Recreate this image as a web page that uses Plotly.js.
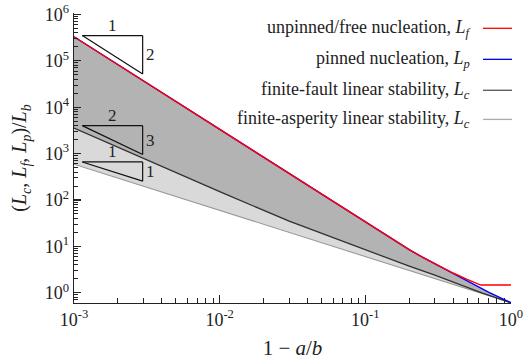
<!DOCTYPE html>
<html>
<head>
<meta charset="utf-8">
<script src="https://cdn.plot.ly/plotly-3.0.1.min.js"></script>
<style>html,body{margin:0;padding:0;background:#fff;}#chart{width:523px;height:360px;}</style>
</head>
<body>
<div id="chart"></div>
<script>
// ---- data (x = 1 - a/b, y = L / L_b) ----
const xFree = [0.001, 0.01, 0.1, 0.15, 0.2, 0.25, 0.3, 0.35, 0.4, 0.5, 0.6, 0.62, 1.0];
const yFree = [330000, 3300, 33, 14.7, 8.5, 5.7, 4.2, 3.27, 2.67, 1.95, 1.54, 1.47, 1.47];

const xPinned = [0.001, 0.01, 0.1, 0.15, 0.2, 0.25, 0.3, 0.35, 0.4, 0.5, 0.6, 0.7, 0.8, 1.0];
const yPinned = [330000, 3300, 33, 14.7, 8.5, 5.7, 4.2, 3.25, 2.6, 1.75, 1.3, 1.03, 0.85, 0.61];

const xFault = [0.001, 0.003, 0.01, 0.03, 0.1, 0.2, 0.3, 0.4, 0.63, 1.0];
const yFault = [3550, 790, 151, 35, 8.3, 3.75, 2.4, 1.7, 1.0, 0.61];

const xAsperity = [0.001, 0.01, 0.1, 0.316, 1.0];
const yAsperity = [590, 60, 6.2, 1.95, 0.61];

const seriesNames = [
  'unpinned/free nucleation, <i>L</i><sub><i>f</i></sub>',
  'pinned nucleation, <i>L</i><sub><i>p</i></sub>',
  'finite-fault linear stability, <i>L</i><sub><i>c</i></sub>',
  'finite-asperity linear stability, <i>L</i><sub><i>c</i></sub>'
];

const xTickVals = [0.001, 0.01, 0.1, 1];
const xTickText = ['10<sup>-3</sup>', '10<sup>-2</sup>', '10<sup>-1</sup>', '10<sup>0</sup>'];
const yTickVals = [1, 10, 100, 1000, 10000, 100000, 1000000];
const yTickText = ['10<sup>0</sup>', '10<sup>1</sup>', '10<sup>2</sup>', '10<sup>3</sup>', '10<sup>4</sup>', '10<sup>5</sup>', '10<sup>6</sup>'];

// slope triangles: [run label, rise label, slope]
const triRun = ['1', '2', '1'];
const triRise = ['2', '3', '1'];
const triSlope = [2, 1.5, 1];

// ---- styling / layout ----
const FONT = 'Liberation Serif, Times New Roman, serif';
const TXT = '#222';
const colFree = '#ff0000', colPinned = '#0000ff', colFault = '#303030', colAsp = '#999999';
const fillDark = '#b3b3b3', fillLight = '#d9d9d9';

function minorVals(lo, hi) {
  const v = [];
  for (let e = lo; e <= hi; e++) for (let m = 2; m <= 9; m++) v.push(m * Math.pow(10, e));
  return v;
}

const traces = [
  {x: xAsperity, y: yAsperity, mode: 'lines', line: {color: colAsp, width: 1.1}, showlegend: false, hoverinfo: 'skip'},
  {x: xFault, y: yFault, mode: 'lines', line: {color: colFault, width: 1.3}, fill: 'tonexty', fillcolor: fillLight, showlegend: false, hoverinfo: 'skip'},
  {x: xPinned, y: yPinned, mode: 'lines', line: {color: colPinned, width: 1.4}, fill: 'tonexty', fillcolor: fillDark, showlegend: false, hoverinfo: 'skip'},
  {x: xFree, y: yFree, mode: 'lines', line: {color: colFree, width: 1.4}, showlegend: false, hoverinfo: 'skip'}
];

// triangle geometry (positions only)
const triX0 = 0.00114, triX1 = 0.00296;
const triTop = [350000, 4000, 660];
const shapes = [], annotations = [];
for (let i = 0; i < 3; i++) {
  const top = triTop[i];
  const bot = top / Math.pow(triX1 / triX0, triSlope[i]);
  const ln = {color: '#111', width: 1.2};
  shapes.push({type: 'line', xref: 'x', yref: 'y', x0: triX0, x1: triX1, y0: top, y1: top, line: ln});
  shapes.push({type: 'line', xref: 'x', yref: 'y', x0: triX1, x1: triX1, y0: top, y1: bot, line: ln});
  shapes.push({type: 'line', xref: 'x', yref: 'y', x0: triX0, x1: triX1, y0: top, y1: bot, line: ln});
  annotations.push({xref: 'x', yref: 'y', x: (Math.log10(triX0) + Math.log10(triX1)) / 2, y: Math.log10(top),
    text: triRun[i], showarrow: false, xanchor: 'center', yanchor: 'bottom', yshift: -1,
    font: {family: FONT, size: 17, color: TXT}});
  annotations.push({xref: 'x', yref: 'y', x: Math.log10(triX1), y: (Math.log10(top) + Math.log10(bot)) / 2,
    text: triRise[i], showarrow: false, xanchor: 'left', yanchor: 'middle', xshift: 1,
    font: {family: FONT, size: 17, color: TXT}});
}

// legend drawn manually (line to the right of the text)
const legCols = [colFree, colPinned, '#555555', '#aaaaaa'];
const legY = [28.3, 59.3, 90.2, 119.3]; // pixel rows
const plotTop = 13, plotBot = 302.7, plotL = 74, plotR = 511;
function py(p) { return (plotBot - p) / (plotBot - plotTop); }
function px(p) { return (p - plotL) / (plotR - plotL); }
for (let i = 0; i < 4; i++) {
  annotations.push({xref: 'paper', yref: 'paper', x: px(472), y: py(legY[i]), text: seriesNames[i],
    showarrow: false, xanchor: 'right', yanchor: 'middle', font: {family: FONT, size: 18, color: TXT}});
  shapes.push({type: 'line', xref: 'paper', yref: 'paper', x0: px(483), x1: px(512), y0: py(legY[i]), y1: py(legY[i]),
    line: {color: legCols[i], width: 1.3}});
}

const axisCommon = {
  type: 'log', showgrid: false, zeroline: false, showline: true, linecolor: '#222', linewidth: 1.4,
  ticks: 'inside', tickcolor: '#222', tickwidth: 1.1, tickmode: 'array',
  tickfont: {family: FONT, size: 18, color: TXT}, mirror: false, ticklabeloverflow: 'allow'
};

const layout = {
  width: 523, height: 360,
  margin: {l: plotL, r: 523 - plotR, t: plotTop, b: 360 - plotBot, pad: 0},
  paper_bgcolor: '#fff', plot_bgcolor: '#fff',
  showlegend: false,
  xaxis: Object.assign({}, axisCommon, {
    range: [-3, 0], tickvals: xTickVals, ticktext: xTickText, ticklen: 8,
    minor: {tickmode: 'array', tickvals: minorVals(-3, -1), ticks: 'inside', ticklen: 5, tickcolor: '#222', tickwidth: 1, showgrid: false},
    title: {text: '1 − <i>a</i>/<i>b</i>', font: {family: FONT, size: 21, color: TXT}, standoff: 12}
  }),
  yaxis: Object.assign({}, axisCommon, {
    range: [-0.22, 6.03], tickvals: yTickVals, ticktext: yTickText, ticklen: 7,
    minor: {tickmode: 'array', tickvals: minorVals(-1, 5), ticks: 'inside', ticklen: 4, tickcolor: '#222', tickwidth: 1, showgrid: false},
    title: {text: '(<i>L</i><sub><i>c</i></sub>, <i>L</i><sub><i>f</i></sub>, <i>L</i><sub><i>p</i></sub>)/<i>L</i><sub><i>b</i></sub>',
      font: {family: FONT, size: 20, color: TXT}, standoff: 12}
  }),
  shapes: shapes,
  annotations: annotations
};

Plotly.newPlot('chart', traces, layout, {staticPlot: true, displayModeBar: false});
</script>
</body>
</html>
